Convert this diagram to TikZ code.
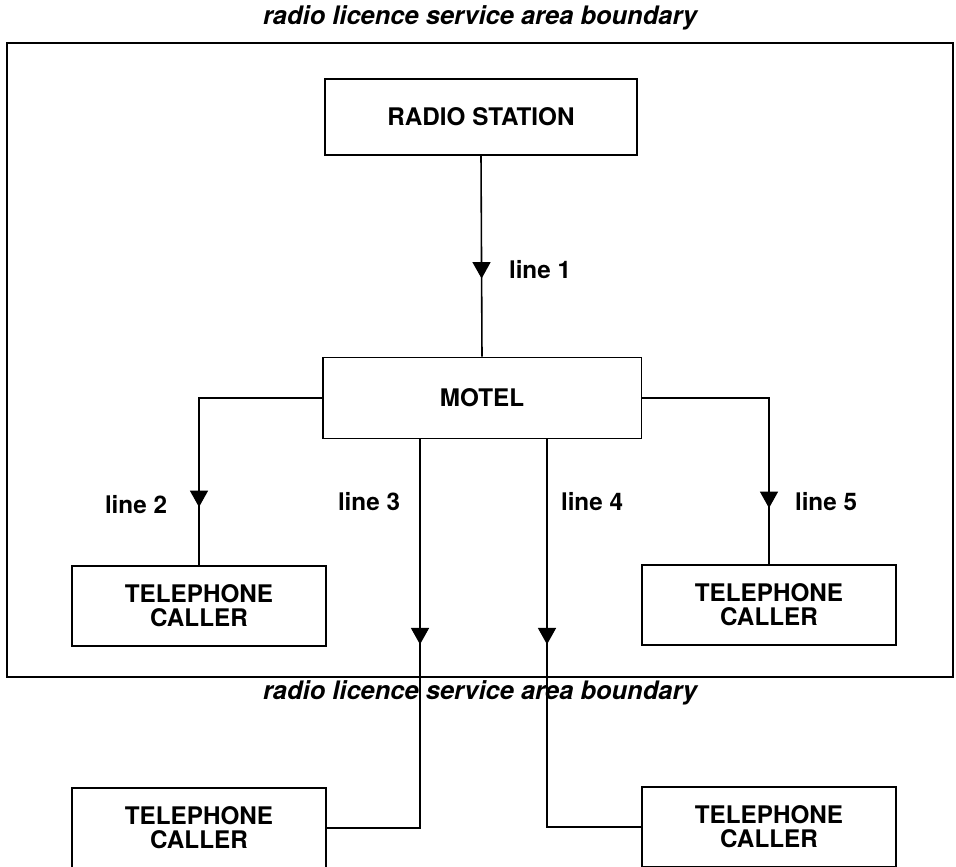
\documentclass[tikz,border=0pt]{standalone}
\usepackage{fontspec}
\setmainfont{TeX Gyre Heros}
\usepackage{tikz}
\usetikzlibrary{
  arrows.meta,
  decorations.markings
}
\tikzset{
  boundary/.style={
    draw=black,
    line width=1.2pt
  },
  unit/.style={
    draw=black,
    line width=1.1pt,
    minimum width=5.08cm,
    minimum height=1.6cm,
    inner sep=0pt,
    align=center,
    font=\fontsize{13.8}{13.8}\selectfont\bfseries
  },
  wire/.style={
    draw=black,
    line width=0.9pt
  },
  midtip/.style={
    postaction={decorate},
    decoration={
      markings,
      mark=at position #1 with {\arrow{Triangle[width=3.6mm,length=3.3mm]}}
    }
  },
  tag/.style={
    font=\fontsize{13.8}{13.8}\selectfont\bfseries
  },
  areatitle/.style={
    font=\fontsize{14.5}{14.5}\selectfont\bfseries\itshape
  }
}

\begin{document}
\begin{tikzpicture}[x=0.02cm, y=-0.02cm]
  \useasboundingbox (0,0) rectangle (956,866);

  % service area
  \draw[boundary] (7,43) rectangle (953,677);
  \node[areatitle] (toptitle) at (480,18) {radio licence service area boundary};
  \node[areatitle] (bottitle) at (480,693) {radio licence service area boundary};

  \node[unit, minimum width=6.24cm, minimum height=1.52cm] (radio) at (481,117) {RADIO STATION};
  \node[unit, minimum width=6.38cm, minimum height=1.62cm] (motel) at (482,398) {MOTEL};

  \foreach \n/\x/\y in {
    cA/199/606,
    cB/769/605,
    cC/199/828,
    cD/769/827
  }{
    \node[unit] (\n) at (\x,\y) {TELEPHONE\\CALLER};
  }

  \draw[wire, midtip=-1.56cm] (radio.south) -- (motel.north);
  \draw[wire, midtip=-1.16cm] (motel.west) -| (cA.north);
  \draw[wire, midtip=-1.12cm] (motel.east) -| (cB.north);
  \draw[wire, midtip=4.1cm] (motel.south) ++(-62,0) |- (cC.east);
  \draw[wire, midtip=4.1cm] (motel.south) ++(65,0) |- (cD.west);

  \foreach \k/\x/\y in {
    1/540/270,
    2/136/505,
    3/369/502,
    4/592/502,
    5/826/502
  }{
    \node[tag] (l\k) at (\x,\y) {line \k};
  }
\end{tikzpicture}
\end{document}
